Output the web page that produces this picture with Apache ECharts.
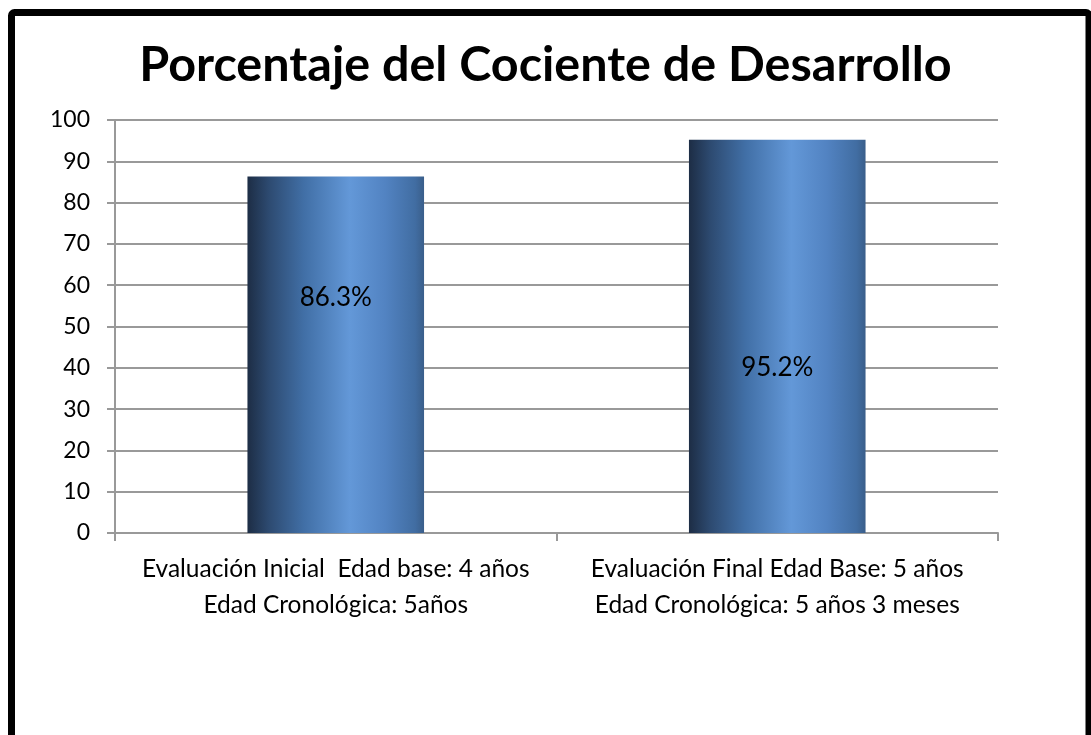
<!DOCTYPE html>
<html>
<head>
<meta charset="utf-8">
<script src="https://cdn.jsdelivr.net/npm/echarts@6/dist/echarts.min.js"></script>
<style>
  html, body { margin: 0; padding: 0; background: #fff; }
  #chart { width: 1091px; height: 735px; }
</style>
</head>
<body>
<div id="chart"></div>
<script>
const categories = [
    'Evaluación Inicial  Edad base: 4 años\nEdad Cronológica: 5años',
    'Evaluación Final Edad Base: 5 años\nEdad Cronológica: 5 años 3 meses'
];
const percentValues = [86.3, 95.2];
const yTicks = { min: 0, max: 100, step: 10 };

// label heights inside the bars differ in the original
const labelSpots = [['50%', '34%'], ['50%', '58%']];

const barFill = new echarts.graphic.LinearGradient(0, 0, 1, 0, [
    { offset: 0, color: '#1d2d45' },
    { offset: 0.12, color: '#2d4a70' },
    { offset: 0.32, color: '#416fa6' },
    { offset: 0.58, color: '#6398d8' },
    { offset: 0.78, color: '#5283c2' },
    { offset: 0.95, color: '#416da2' },
    { offset: 1, color: '#3a5e8a' }
]);

let myChart = echarts.init(document.getElementById('chart'));

let option = {
    backgroundColor: '#fff',
    textStyle: { fontFamily: 'Lato' },
    title: {
        text: 'Porcentaje del Cociente de Desarrollo',
        left: 'center',
        top: 36,
        textStyle: { fontFamily: 'Lato', fontWeight: 'bold', fontSize: 48.5, color: '#000' }
    },
    graphic: [{
        type: 'rect',
        shape: { x: 11.5, y: 12.5, width: 1077.5, height: 800, r: 3 },
        style: { fill: 'none', stroke: '#000', lineWidth: 7 },
        z: 100
    }],
    grid: { left: 115, right: 93, top: 120, bottom: 202 },
    xAxis: {
        type: 'category',
        data: categories,
        axisLine: { lineStyle: { color: '#999', width: 2 } },
        axisTick: { show: true, length: 8, lineStyle: { color: '#999', width: 2 } },
        axisLabel: { color: '#000', fontSize: 24.5, lineHeight: 36, margin: 18, interval: 0 }
    },
    yAxis: {
        type: 'value',
        min: yTicks.min,
        max: yTicks.max,
        interval: yTicks.step,
        axisLine: { show: true, lineStyle: { color: '#999', width: 2 } },
        axisTick: { show: true, length: 8, lineStyle: { color: '#999', width: 2 } },
        axisLabel: { color: '#000', fontSize: 23, margin: 25 },
        splitLine: { lineStyle: { color: '#999', width: 2 } }
    },
    series: [{
        type: 'bar',
        barWidth: '40%',
        data: percentValues.map((v, i) => ({
            value: v,
            label: { position: labelSpots[i] }
        })),
        itemStyle: { color: barFill },
        label: {
            show: true,
            color: '#000',
            fontSize: 26,
            formatter: p => p.value + '%',
            align: 'center',
            verticalAlign: 'middle'
        }
    }]
};
myChart.setOption(option);
</script>
</body>
</html>
